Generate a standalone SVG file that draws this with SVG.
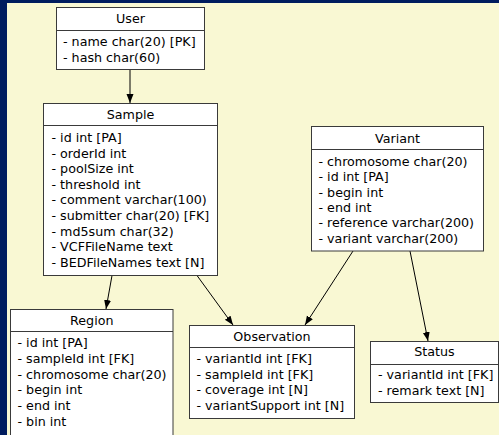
<svg xmlns="http://www.w3.org/2000/svg" width="499" height="435" viewBox="0 0 499 435">
<style>
.box{fill:#ffffff;stroke:#3a3a3a;stroke-width:1}
.t{font-family:"DejaVu Sans",sans-serif;font-size:12.7px;fill:#000}
.c{text-anchor:middle}
.e{stroke:#000;stroke-width:1;fill:none;marker-end:url(#ah)}
</style>
<defs>
<marker id="ah" markerWidth="10" markerHeight="8" refX="9" refY="3.5" orient="auto" markerUnits="userSpaceOnUse">
<path d="M0,0 L9,3.5 L0,7 Z" fill="#000"/>
</marker>
</defs>
<rect x="0" y="0" width="499" height="435" fill="#001c5e"/>
<rect x="7" y="3" width="492" height="432" fill="#f9f8d3"/>
<g id="connectors">
<line class="e" x1="130" y1="69.5" x2="130" y2="103"/>
<line class="e" x1="112" y1="275.5" x2="106" y2="309"/>
<line class="e" x1="197" y1="275.5" x2="233" y2="325"/>
<line class="e" x1="353" y1="251" x2="305" y2="325"/>
<line class="e" x1="410" y1="251" x2="428" y2="341"/>
</g>
<g id="User">
<rect class="box" x="56.5" y="7.5" width="148" height="62"/>
<line class="box" x1="56.5" y1="30.5" x2="204.5" y2="30.5"/>
<text class="t c" x="130.5" y="23">User</text>
<text class="t" x="63" y="46">- name char(20) [PK]</text>
<text class="t" x="63" y="62">- hash char(60)</text>
</g>
<g id="Sample">
<rect class="box" x="43.5" y="103.5" width="174" height="172"/>
<line class="box" x1="43.5" y1="125.5" x2="217.5" y2="125.5"/>
<text class="t c" x="130.5" y="119">Sample</text>
<text class="t" x="51.5" y="142">- id int [PA]</text>
<text class="t" x="51.5" y="157.6">- orderId int</text>
<text class="t" x="51.5" y="173.2">- poolSize int</text>
<text class="t" x="51.5" y="188.8">- threshold int</text>
<text class="t" x="51.5" y="204.4">- comment varchar(100)</text>
<text class="t" x="51.5" y="220">- submitter char(20) [FK]</text>
<text class="t" x="51.5" y="235.6">- md5sum char(32)</text>
<text class="t" x="51.5" y="251.2">- VCFFileName text</text>
<text class="t" x="51.5" y="266.8">- BEDFileNames text [N]</text>
</g>
<g id="Variant">
<rect class="box" x="311.5" y="126.5" width="172" height="124.5"/>
<line class="box" x1="311.5" y1="149.5" x2="483.5" y2="149.5"/>
<text class="t c" x="397.5" y="142.5">Variant</text>
<text class="t" x="318.5" y="166">- chromosome char(20)</text>
<text class="t" x="318.5" y="181.3">- id int [PA]</text>
<text class="t" x="318.5" y="196.6">- begin int</text>
<text class="t" x="318.5" y="211.9">- end int</text>
<text class="t" x="318.5" y="227.2">- reference varchar(200)</text>
<text class="t" x="318.5" y="242.5">- variant varchar(200)</text>
</g>
<g id="Region">
<rect class="box" x="10.5" y="309.5" width="162.5" height="126"/>
<line class="box" x1="10.5" y1="331.5" x2="173" y2="331.5"/>
<text class="t c" x="91.75" y="324.5">Region</text>
<text class="t" x="17.5" y="347">- id int [PA]</text>
<text class="t" x="17.5" y="362.8">- sampleId int [FK]</text>
<text class="t" x="17.5" y="378.6">- chromosome char(20)</text>
<text class="t" x="17.5" y="394.4">- begin int</text>
<text class="t" x="17.5" y="410.2">- end int</text>
<text class="t" x="17.5" y="426">- bin int</text>
</g>
<g id="Observation">
<rect class="box" x="189.5" y="325.5" width="165" height="93"/>
<line class="box" x1="189.5" y1="347.5" x2="354.5" y2="347.5"/>
<text class="t c" x="272" y="340.5">Observation</text>
<text class="t" x="196.5" y="362.7">- variantId int [FK]</text>
<text class="t" x="196.5" y="378.5">- sampleId int [FK]</text>
<text class="t" x="196.5" y="394.3">- coverage int [N]</text>
<text class="t" x="196.5" y="410.1">- variantSupport int [N]</text>
</g>
<g id="Status">
<rect class="box" x="370.5" y="341.5" width="128" height="61"/>
<line class="box" x1="370.5" y1="364.5" x2="498.5" y2="364.5"/>
<text class="t c" x="434.5" y="356">Status</text>
<text class="t" x="378" y="378.7">- variantId int [FK]</text>
<text class="t" x="378" y="395">- remark text [N]</text>
</g>
</svg>
